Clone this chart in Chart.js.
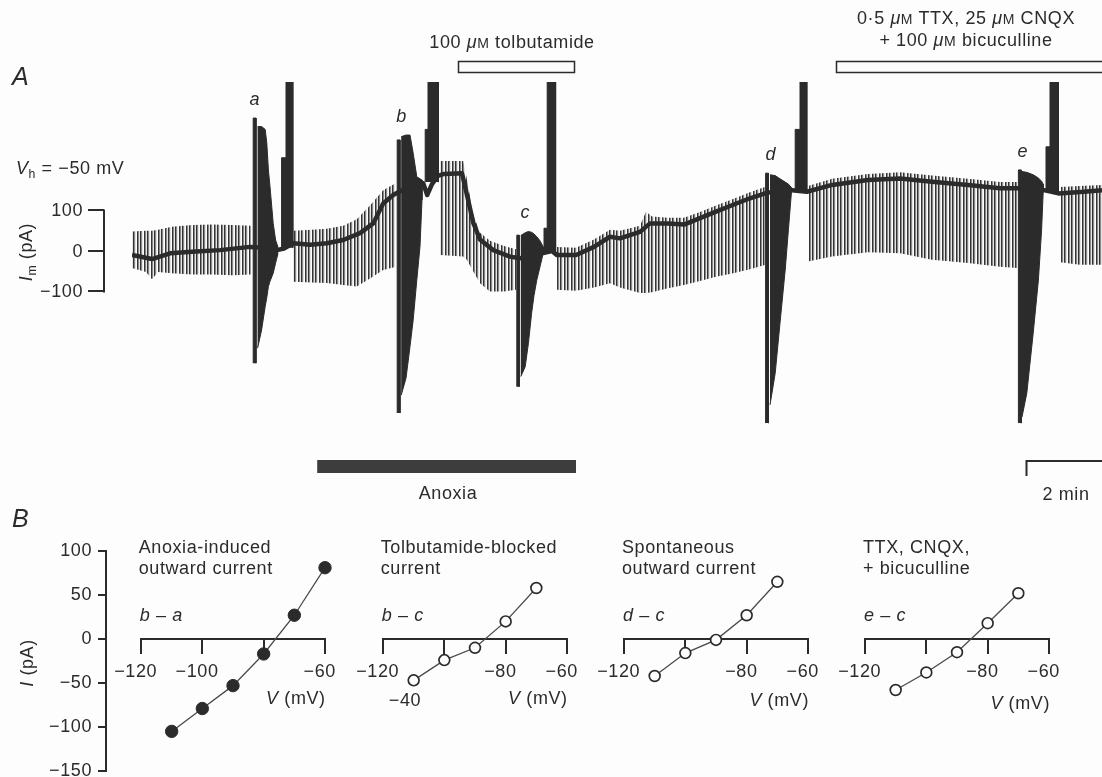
<!DOCTYPE html>
<html lang="en">
<head>
<meta charset="utf-8">
<title>Anoxia-induced outward current</title>
<script src="https://cdn.jsdelivr.net/npm/chart.js@4.4.1/dist/chart.umd.min.js"></script>
<style>
  html, body { margin: 0; padding: 0; background: #fdfdfd; }
  #fig { position: relative; width: 1102px; height: 777px; overflow: hidden;
         font-family: "Liberation Sans", Arial, Helvetica, sans-serif; font-size: 18px;
         letter-spacing: 0.6px; color: #2b2b2b; }
  #fig canvas { position: absolute; left: 0; top: 0; }
  .t { position: absolute; white-space: nowrap; line-height: 1; }
  .it { font-style: italic; }
  .big { font-size: 25px; font-style: italic; letter-spacing: 0; }
  .sc { font-size: 0.78em; }
  .sub { font-size: 0.68em; position: relative; top: 0.32em; }
</style>
</head>
<body>
<div id="fig">
  <canvas id="trace" width="1102" height="500"></canvas>
  <canvas id="ivAxis" width="120" height="260"></canvas>
  <canvas id="iv0" width="264" height="260"></canvas>
  <canvas id="iv1" width="264" height="260"></canvas>
  <canvas id="iv2" width="264" height="260"></canvas>
  <canvas id="iv3" width="264" height="260"></canvas>
</div>
<script>
// ---- Panel A: holding current at Vh = -50 mV (time in min, current in pA) ----
const baseT = [0.00, 0.50, 0.95, 1.50, 2.20, 2.95, 3.30, 3.62, 3.80, 4.03, 4.45, 4.87,
               5.28, 5.70, 6.03, 6.28, 6.53, 6.75, 7.05, 7.28, 7.38, 7.50, 7.65, 7.80,
               8.25, 8.37, 8.53, 8.70, 9.03, 9.45, 9.70, 9.95, 10.28, 10.50, 10.62, 11.10,
               11.55, 11.95, 12.20, 12.70, 12.95, 13.40, 13.80, 14.20, 14.60, 15.03, 15.45, 15.83,
               16.20, 16.50, 16.87, 17.50, 18.40, 19.20, 20.00, 20.90, 21.70, 22.15, 22.80, 23.16,
               23.80, 24.25];
const baseI = [-10, -20, -6, -2, 2, 10, 8, 2, 6, 19, 15, 19,
               27, 44, 68, 117, 138, 150, 165, 167, 138, 165, 185, 190,
               192, 140, 70, 28, 2, -14, -18, -15, -5, 0, -10, -10,
               10, 35, 31, 47, 68, 68, 65, 81, 97, 114, 130, 142,
               150, 150, 146, 163, 175, 179, 171, 163, 155, 155, 150, 142,
               146, 150];

// repeated test ramps between the I-V families: [t, top, bottom]
const ramp1 = [[0.00, 48, -42], [0.35, 50, -52], [0.50, 50, -70], [0.65, 52, -52], [1.00, 60, -55],
               [1.50, 64, -58], [2.00, 65, -58], [2.50, 64, -60], [2.97, 62, -58]];
const ramp2 = [[4.03, 50, -76], [4.50, 52, -78], [4.87, 55, -79], [5.28, 62, -84], [5.62, 78, -88],
               [5.95, 112, -68], [6.28, 150, -47], [6.60, 168, -39]];
const ramp3 = [[7.70, 222, -10], [8.28, 222, -14], [8.37, 178, -22], [8.53, 90, -50], [8.70, 45, -80],
               [8.95, 25, -100], [9.30, 12, -100], [9.60, 4, -96]];
const ramp4 = [[10.62, 10, -96], [11.10, 8, -98], [11.55, 28, -90], [11.95, 52, -80], [12.20, 50, -90],
               [12.70, 62, -104], [12.85, 97, -104], [13.00, 85, -102], [13.40, 82, -92], [13.80, 82, -84],
               [14.20, 96, -74], [14.60, 112, -64], [15.03, 128, -55], [15.45, 145, -45], [15.82, 158, -35]];
const ramp5 = [[16.90, 160, -26], [17.50, 178, -14], [18.40, 190, -3], [19.20, 194, -6], [20.00, 186, -22],
               [20.90, 178, -30], [21.70, 170, -39], [22.13, 170, -42]];
const ramp6 = [[23.20, 158, -28], [23.70, 160, -34], [24.25, 163, -34]];

// first ramp of each I-V family: [start, end, top, bottom]
const leadSpikes = [[3.03, 3.10, 328, -277], [6.63, 6.70, 274, -400], [9.62, 9.68, 39, -335],
                    [15.84, 15.91, 192, -425], [22.16, 22.23, 200, -425]];

// I-V families a-e: [t, top, bottom]
const eventA = [[3.14, 307, -240], [3.24, 307, -195], [3.33, 300, -137], [3.37, 266, -115], [3.41, 200, -88],
                [3.45, 159, -75], [3.53, 68, -55], [3.59, 27, -30], [3.64, 12, -10]];
const eventB = [[6.73, 282, -356], [6.85, 286, -314], [6.95, 286, -236], [7.03, 241, -170], [7.12, 183, -72],
                [7.20, 178, 11], [7.25, 175, 126]];
const eventC = [[9.72, 38, -310], [9.83, 45, -286], [9.91, 48, -228], [9.99, 46, -154], [10.05, 42, -110],
                [10.12, 35, -72], [10.20, 25, -39], [10.28, 10, -6]];
const eventD = [[15.95, 188, -380], [16.08, 186, -302], [16.20, 178, -178], [16.33, 170, -47], [16.41, 165, 52],
                [16.49, 156, 150]];
const eventE = [[22.25, 196, -410], [22.37, 194, -351], [22.53, 188, -203], [22.66, 180, -72], [22.74, 172, 52],
                [22.78, 165, 146]];

// off-scale current after each family: [start, step, end, stepTop, base]
const tallSpikes = [[3.74, 3.85, 4.02, 230, 8], [7.33, 7.40, 7.66, 300, 170], [10.30, 10.38, 10.59, 56, -5],
                    [16.58, 16.70, 16.87, 300, 146], [22.85, 22.95, 23.16, 257, 145]];
const offScale = 600;

const markNames = ['a', 'b', 'c', 'd', 'e'];
const markTimes = [3.07, 6.74, 9.83, 15.97, 22.27];

const tolbutamideOn = [8.15, 11.05];
const blockersOn = [17.6, 24.6];
const anoxiaOn = [4.63, 11.1];
const timeBar = [22.35, 2];
const bracketTicks = [100, 0, -100];

// ---- Panel B: difference currents from the ramp families ----
const ivVolts = [-110, -100, -90, -80, -70, -60];
const ivVoltsShort = [-110, -100, -90, -80, -70];
const anoxiaIV = [-105, -79, -53, -17, 27, 81];
const tolbIV = [-47, -24, -10, 20, 58];
const spontIV = [-42, -16, -1, 27, 65];
const blockIV = [-58, -38, -15, 18, 52];
const vTicks = [-120, -100, -80, -60];
const iTicks = [-150, -100, -50, 0, 50, 100];
const vTickText = [['\u2212120', '\u2212100', '', '\u221260'],
                   ['\u2212120', '', '\u221280', '\u221260'],
                   ['\u2212120', '', '\u221280', '\u221260'],
                   ['\u2212120', '', '\u221280', '\u221260']];
const panelTitles = [['Anoxia-induced', 'outward current'], ['Tolbutamide-blocked', 'current'],
                     ['Spontaneous', 'outward current'], ['TTX, CNQX,', '+ bicuculline']];
const panelDiffs = [['b', 'a'], ['b', 'c'], ['d', 'c'], ['e', 'c']];

const ink = '#2b2b2b';
const fontFamily = '"Liberation Sans", Arial, Helvetica, sans-serif';
Chart.defaults.font.family = fontFamily;
Chart.defaults.font.size = 18;
Chart.defaults.color = ink;

const fig = document.getElementById('fig');
const fmt = v => (v < 0 ? '\u2212' : '') + Math.abs(v);

function text(html, x, y, align, cls) {
  const el = document.createElement('div');
  el.className = 't ' + (cls || '');
  el.innerHTML = html;
  const tx = align === 'center' ? '-50%' : align === 'right' ? '-100%' : '0';
  el.style.left = x + 'px';
  el.style.top = y + 'px';
  el.style.transform = `translate(${tx}, -50%)`;
  fig.appendChild(el);
  return el;
}

function outline(rows) {
  const top = rows.map(r => ({ x: r[0], y: r[1] }));
  const bottom = rows.map(r => ({ x: r[0], y: r[2] })).reverse();
  return top.concat(bottom);
}

function box(s) {
  const [t0, t1, hi, lo] = s;
  return [{ x: t0, y: lo }, { x: t0, y: hi }, { x: t1, y: hi }, { x: t1, y: lo }];
}

function spikeOutline(s) {
  const [t0, t1, t2, hi, base] = s;
  return [{ x: t0, y: base }, { x: t0, y: hi }, { x: t1, y: hi }, { x: t1, y: offScale },
          { x: t2, y: offScale }, { x: t2, y: base }];
}

// vertical hatching standing in for the individual test ramps
function rampTexture() {
  const c = document.createElement('canvas');
  c.width = 7; c.height = 8;
  const g = c.getContext('2d');
  g.fillStyle = 'rgba(40,40,40,0.95)';
  g.fillRect(0, 0, 1, 8); g.fillRect(4, 0, 1, 8);
  g.fillStyle = 'rgba(40,40,40,0.55)';
  g.fillRect(1, 0, 1, 8); g.fillRect(5, 0, 1, 8);
  g.fillStyle = 'rgba(40,40,40,0.12)';
  g.fillRect(2, 0, 1, 8); g.fillRect(6, 0, 1, 8);
  return g.createPattern(c, 'repeat');
}

const tracking = { id: 'tracking', beforeDraw(chart) { chart.ctx.letterSpacing = '0.6px'; } };

const traceFurniture = {
  id: 'traceFurniture',
  afterDraw(chart) {
    const { ctx, scales: { x, y } } = chart;
    ctx.save();
    ctx.strokeStyle = ink;
    ctx.fillStyle = ink;
    // current calibration bracket
    const bx = 104;
    ctx.lineWidth = 2;
    ctx.beginPath();
    ctx.moveTo(bx, y.getPixelForValue(100) - 1);
    ctx.lineTo(bx, y.getPixelForValue(-100) + 1);
    bracketTicks.forEach(v => {
      const py = Math.round(y.getPixelForValue(v));
      ctx.moveTo(bx - 16, py);
      ctx.lineTo(bx, py);
    });
    ctx.stroke();
    ctx.font = `18px ${fontFamily}`;
    ctx.textAlign = 'right';
    ctx.textBaseline = 'middle';
    bracketTicks.forEach(v => ctx.fillText(fmt(v), bx - 21, y.getPixelForValue(v) + 1));
    // drug applications
    ctx.lineWidth = 1.5;
    [tolbutamideOn, blockersOn].forEach(([t0, t1]) => {
      const x0 = x.getPixelForValue(t0), x1 = x.getPixelForValue(t1);
      ctx.strokeRect(Math.round(x0) + 0.5, 61.5, x1 - x0, 11);
    });
    // anoxia
    const a0 = x.getPixelForValue(anoxiaOn[0]), a1 = x.getPixelForValue(anoxiaOn[1]);
    ctx.fillStyle = '#3d3d3d';
    ctx.fillRect(a0, 460, a1 - a0, 13);
    // time bar
    const s0 = Math.round(x.getPixelForValue(timeBar[0])) + 0.5;
    const s1 = x.getPixelForValue(timeBar[0] + timeBar[1]);
    ctx.lineWidth = 2;
    ctx.beginPath();
    ctx.moveTo(s0, 476); ctx.lineTo(s0, 461); ctx.lineTo(s1, 461);
    ctx.stroke();
    ctx.restore();
  }
};

// ---- trace ----
const rampFill = rampTexture();
const traceSets = [];
[ramp1, ramp2, ramp3, ramp4, ramp5, ramp6].forEach(seg => traceSets.push({
  data: outline(seg), fill: 'shape', backgroundColor: rampFill, borderWidth: 0, order: 4
}));
traceSets.push({
  data: baseT.map((t, i) => ({ x: t, y: baseI[i] })), borderColor: ink, borderWidth: 4.5,
  borderJoinStyle: 'round', fill: false, order: 3
});
[eventA, eventB, eventC, eventD, eventE].map(outline).concat(leadSpikes.map(box)).forEach(pts => traceSets.push({
  data: pts, fill: 'shape', backgroundColor: ink, borderColor: ink, borderWidth: 1, order: 2
}));
tallSpikes.forEach(s => traceSets.push({
  data: spikeOutline(s), fill: 'shape', backgroundColor: ink, borderColor: ink, borderWidth: 1, order: 1
}));

const trace = new Chart(document.getElementById('trace'), {
  type: 'line',
  data: { datasets: traceSets },
  options: {
    responsive: false, animation: false, events: [],
    layout: { padding: { left: 132, right: 0, top: 82, bottom: 70 } },
    elements: { point: { radius: 0 }, line: { tension: 0 } },
    scales: {
      x: { type: 'linear', display: false, min: 0, max: 24.25 },
      y: { type: 'linear', display: false, min: -442, max: 417 }
    },
    plugins: { legend: { display: false }, tooltip: { enabled: false } }
  },
  plugins: [tracking, traceFurniture]
});

// family labels sit just above each family's highest excursion
const families = [eventA, eventB, eventC, eventD, eventE];
markNames.forEach((m, i) => {
  const peak = Math.max(leadSpikes[i][2], ...families[i].map(r => r[1]));
  text(m, trace.scales.x.getPixelForValue(markTimes[i]), trace.scales.y.getPixelForValue(peak) - 19, 'center', 'it');
});

// ---- I-V panels ----
const ivOriginX = [140.7, 382.7, 624, 865];
const ivAxisX = 105.7;
const ivTop = 551.3;
const ivPad = { left: 40, right: 40, top: 20, bottom: 20 };

// shared current axis for the four I-V plots
const axisCanvas = document.getElementById('ivAxis');
const ivAxis = new Chart(axisCanvas, {
  type: 'scatter',
  data: { datasets: [] },
  options: {
    responsive: false, animation: false, events: [],
    layout: { padding: { left: 0, right: 20, top: ivPad.top, bottom: ivPad.bottom } },
    plugins: { legend: { display: false }, tooltip: { enabled: false } },
    scales: {
      x: { display: false, min: 0, max: 1 },
      y: {
        type: 'linear', min: -150, max: 100, position: 'left',
        afterBuildTicks: s => { s.ticks = iTicks.map(v => ({ value: v })); },
        afterFit: s => { s.width = 70; },
        ticks: { padding: 6, callback: v => fmt(v) },
        grid: { drawOnChartArea: false, tickLength: 8, color: ink, lineWidth: 2 },
        border: { color: ink, width: 2 }
      }
    }
  },
  plugins: [tracking]
});
axisCanvas.style.left = (ivAxisX - ivAxis.chartArea.left) + 'px';
axisCanvas.style.top = (ivTop - ivAxis.chartArea.top) + 'px';

function ivPanel(k, volts, amps, filled) {
  const el = document.getElementById('iv' + k);
  const chart = new Chart(el, {
    type: 'scatter',
    data: { datasets: [{
      data: volts.map((v, i) => ({ x: v, y: amps[i] })),
      showLine: true, clip: false,
      borderColor: '#4a4a4a', borderWidth: 1.3,
      pointRadius: filled ? 6.2 : 5.4,
      pointBackgroundColor: filled ? ink : '#fdfdfd',
      pointBorderColor: ink,
      pointBorderWidth: filled ? 1 : 1.7
    }] },
    options: {
      responsive: false, animation: false, events: [],
      layout: { padding: ivPad },
      plugins: { legend: { display: false }, tooltip: { enabled: false } },
      scales: {
        x: {
          type: 'linear', min: -120, max: -60, position: { y: 0 },
          afterBuildTicks: s => { s.ticks = vTicks.map(v => ({ value: v })); },
          ticks: { autoSkip: false, maxRotation: 0, padding: 8,
                   callback: v => { const s = vTickText[k][vTicks.indexOf(v)]; return s ? s + '\u2007' : s; } },
          grid: { drawOnChartArea: false, tickLength: 14, color: ink, lineWidth: 2 },
          border: { color: ink, width: 2 }
        },
        y: { type: 'linear', min: -150, max: 100, display: false }
      }
    },
    plugins: [tracking]
  });
  const ca = chart.chartArea;
  el.style.left = (ivOriginX[k] - ca.left) + 'px';
  el.style.top = (ivTop - ca.top) + 'px';
  return chart;
}

ivPanel(0, ivVolts, anoxiaIV, true);
ivPanel(1, ivVoltsShort, tolbIV, false);
ivPanel(2, ivVoltsShort, spontIV, false);
ivPanel(3, ivVoltsShort, blockIV, false);

// ---- lettering ----
text('A', 12, 76, 'left', 'big');
text('100 <i>\u03bc</i><span class="sc">M</span> tolbutamide', 512, 42, 'center');
text('0\u00b75 <i>\u03bc</i><span class="sc">M</span> TTX, 25 <i>\u03bc</i><span class="sc">M</span> CNQX', 966, 18, 'center');
text('+ 100 <i>\u03bc</i><span class="sc">M</span> bicuculline', 966, 40, 'center');
text('<i>V</i><span class="sub">h</span> = \u221250 mV', 16, 168, 'left');
text('<i>I</i><span class="sub">m</span> (pA)', 26, 252, 'center').style.transform = 'translate(-50%, -50%) rotate(-90deg)';
text('Anoxia', 448, 493, 'center');
text('2 min', 1066, 494, 'center');

text('B', 12, 518, 'left', 'big');
text('<i>I</i> (pA)', 27, 663, 'center').style.transform = 'translate(-50%, -50%) rotate(-90deg)';
const vLabelY = [698, 698, 700, 703];
panelTitles.forEach((lines, k) => {
  const x0 = ivOriginX[k] - 2;
  text(lines[0], x0, 546.7, 'left');
  text(lines[1], x0, 568.3, 'left');
  text(`<i>${panelDiffs[k][0]}</i> \u2013 <i>${panelDiffs[k][1]}</i>`, x0 + 1, 615, 'left');
  text('<i>V</i> (mV)', ivOriginX[k] + 185, vLabelY[k], 'right');
});
text('\u221240', 405, 700, 'center');
</script>
</body>
</html>
